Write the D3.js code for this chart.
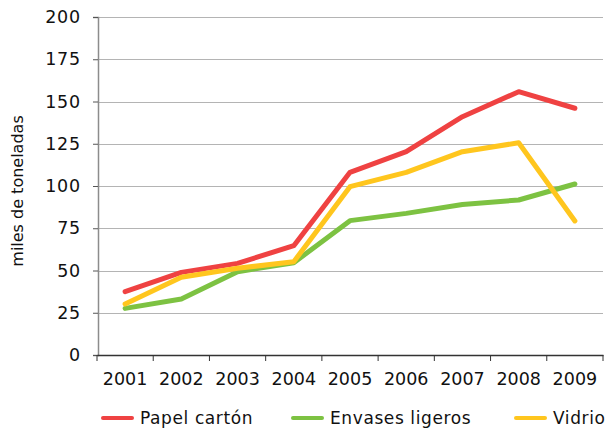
<!DOCTYPE html>
<html>
<head>
<meta charset="utf-8">
<script src="https://cdn.jsdelivr.net/npm/d3@7"></script>
<style>
  html, body { margin: 0; padding: 0; background: #fff; }
  svg { display: block; font-family: "DejaVu Sans", sans-serif; }
</style>
</head>
<body>
<svg id="chart" width="614" height="431"></svg>
<script>
const years = ["2001","2002","2003","2004","2005","2006","2007","2008","2009"];
const papelCarton = [37.5, 48.9, 54.2, 64.7, 108.1, 120.3, 141.0, 155.8, 146.0];
const envasesLigeros = [27.6, 33.1, 49.3, 54.6, 79.5, 83.8, 89.1, 91.7, 101.2];
const vidrio = [30.2, 46.0, 51.3, 55.2, 99.6, 108.1, 120.3, 125.6, 79.3];
const yTicks = [0, 25, 50, 75, 100, 125, 150, 175, 200];
const seriesNames = ["Papel cartón", "Envases ligeros", "Vidrio"];
const seriesColors = ["#EF4242", "#7DC242", "#FFC61E"];
const yLabel = "miles de toneladas";

const series = [papelCarton, envasesLigeros, vidrio].map((v, i) => ({
  name: seriesNames[i], color: seriesColors[i], values: v
}));

const svg = d3.select("#chart");
const pLeft = 98, pRight = 603, pTop = 17, pBottom = 355;

const x = d3.scaleBand().domain(years).range([pLeft - 1, pRight]).padding(0);
const y = d3.scaleLinear().domain([0, 200]).range([pBottom, pTop]);

// gridlines
svg.append("g").selectAll("line").data(yTicks.filter(d => d > 0)).join("line")
  .attr("x1", pLeft).attr("x2", pRight)
  .attr("y1", d => Math.round(y(d)) + 0.5).attr("y2", d => Math.round(y(d)) + 0.5)
  .attr("stroke", "#b4b4b4").attr("stroke-width", 1);

// y axis
const yAxis = svg.append("g").attr("transform", `translate(${pLeft},0)`)
  .call(d3.axisLeft(y).tickValues(yTicks).tickSize(5).tickPadding(12));
yAxis.select(".domain").attr("stroke", "#8c8c8c").attr("stroke-width", 1.5);
yAxis.selectAll(".tick line").attr("stroke", "#555");
yAxis.selectAll(".tick text").attr("font-size", 17.5).attr("letter-spacing", 0.8)
  .attr("fill", "#111").attr("font-family", "DejaVu Sans, sans-serif");

// x axis
const xAxis = svg.append("g").attr("transform", `translate(0,${pBottom})`)
  .call(d3.axisBottom(x).tickSize(0).tickPadding(18));
xAxis.select(".domain").attr("stroke", "#333").attr("stroke-width", 1.5);
xAxis.selectAll(".tick text").attr("font-size", 17.5)
  .attr("fill", "#111").attr("font-family", "DejaVu Sans, sans-serif");
// boundary tick marks
svg.append("g").selectAll("line").data(years.concat(["end"])).join("line")
  .attr("x1", (d, i) => x.range()[0] + i * x.bandwidth())
  .attr("x2", (d, i) => x.range()[0] + i * x.bandwidth())
  .attr("y1", pBottom).attr("y2", pBottom + 6)
  .attr("stroke", "#333").attr("stroke-width", 1);

// y label
svg.append("text")
  .attr("transform", "translate(23,191) rotate(-90)")
  .attr("text-anchor", "middle")
  .attr("font-size", 16).attr("fill", "#111")
  .text(yLabel);

// lines
const line = d3.line()
  .x((d, i) => x(years[i]) + x.bandwidth() / 2)
  .y(d => y(d));
svg.append("g").selectAll("path").data(series).join("path")
  .attr("d", d => line(d.values))
  .attr("fill", "none")
  .attr("stroke", d => d.color)
  .attr("stroke-width", 5)
  .attr("stroke-linecap", "round")
  .attr("stroke-linejoin", "round");

// legend
const legendX = [103, 293, 516];
const lg = svg.append("g").selectAll("g").data(series).join("g")
  .attr("transform", (d, i) => `translate(${legendX[i]},418)`);
lg.append("line").attr("x1", 0).attr("x2", 29).attr("y1", 0).attr("y2", 0)
  .attr("stroke", d => d.color).attr("stroke-width", 4).attr("stroke-linecap", "round");
lg.append("text").attr("x", 37).attr("y", 6)
  .attr("font-size", 17).attr("letter-spacing", 0.6).attr("fill", "#111")
  .text(d => d.name);
</script>
</body>
</html>
